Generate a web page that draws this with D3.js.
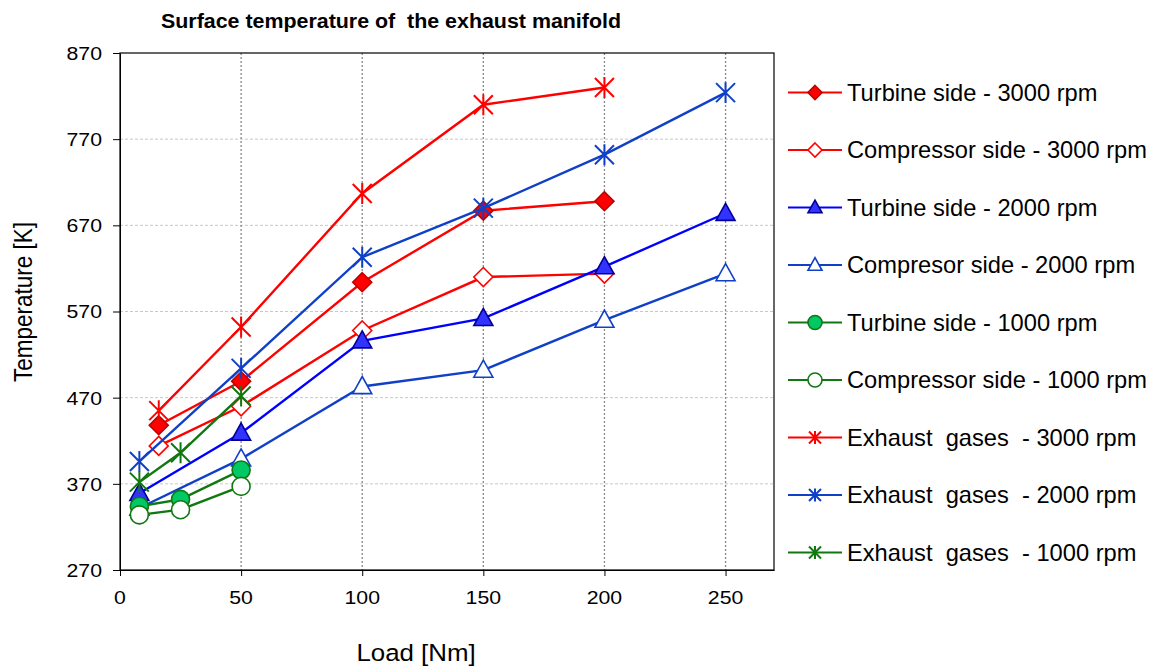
<!DOCTYPE html>
<html>
<head>
<meta charset="utf-8">
<script src="https://cdn.jsdelivr.net/npm/d3@7"></script>
<style>
  body { margin: 0; background: #fff; }
  svg { display: block; font-family: "Liberation Sans", Arial, sans-serif; }
  text { white-space: pre; }
</style>
</head>
<body>
<svg id="chart" width="1160" height="670"></svg>
<script>
// Load points [Nm] for each engine speed
const loads3000 = [16, 50, 100, 150, 200];
const loads2000 = [8, 50, 100, 150, 200, 250];
const loads1000 = [8, 25, 50];

// Temperatures [K]
const turbine3000    = [438, 489, 604, 687, 698];
const compressor3000 = [414, 460, 548, 610, 614];
const turbine2000    = [359, 429, 536, 562, 622, 684];
const compressor2000 = [342, 399, 483, 502, 560, 614];
const turbine1000    = [344, 352, 386];
const compressor1000 = [334, 340, 367];
const exhaust3000    = [455, 552, 707, 810, 830];
const exhaust2000    = [396, 504, 633, 690, 752, 824];
const exhaust1000    = [372, 406, 472];

const seriesNames = [
  "Turbine side - 3000 rpm",
  "Compressor side - 3000 rpm",
  "Turbine side - 2000 rpm",
  "Compresor side - 2000 rpm",
  "Turbine side - 1000 rpm",
  "Compressor side - 1000 rpm",
  "Exhaust  gases  - 3000 rpm",
  "Exhaust  gases  - 2000 rpm",
  "Exhaust  gases  - 1000 rpm"
];

const xTicks = [0, 50, 100, 150, 200, 250];
const yTicks = [270, 370, 470, 570, 670, 770, 870];

// Styling per series: line colour, marker kind, marker fill / stroke
const styles = [
  { color: "#ff0000", marker: "diamond",  fill: "#ff0000", stroke: "#c00000" },
  { color: "#ff0000", marker: "diamond",  fill: "#ffffff", stroke: "#ff0000" },
  { color: "#0000ff", marker: "triangle", fill: "#3333ff", stroke: "#000099" },
  { color: "#1040c8", marker: "triangle", fill: "#ffffff", stroke: "#1040c8" },
  { color: "#117711", marker: "circle",   fill: "#00c864", stroke: "#117711" },
  { color: "#117711", marker: "circle",   fill: "#ffffff", stroke: "#117711" },
  { color: "#ff0000", marker: "star",     fill: "none",    stroke: "#ff0000" },
  { color: "#1040c8", marker: "star",     fill: "none",    stroke: "#1040c8" },
  { color: "#117711", marker: "star",     fill: "none",    stroke: "#117711" }
];

const seriesData = [
  [loads3000, turbine3000],
  [loads3000, compressor3000],
  [loads2000, turbine2000],
  [loads2000, compressor2000],
  [loads1000, turbine1000],
  [loads1000, compressor1000],
  [loads3000, exhaust3000],
  [loads2000, exhaust2000],
  [loads1000, exhaust1000]
];

const svg = d3.select("#chart");
const margin = { left: 120, top: 53, right: 774, bottom: 570 };

const x = d3.scaleLinear().domain([0, 270]).range([margin.left, margin.right]);
const y = d3.scaleLinear().domain([270, 870]).range([margin.bottom, margin.top]);

// Text with a slightly widened glyph shape
function wideText(parent, tx, ty, sx, str, size, opts = {}) {
  const t = parent.append("text")
    .attr("transform", `translate(${tx},${ty}) scale(${sx},1)` + (opts.rotate ? ` rotate(${opts.rotate})` : ""))
    .attr("font-size", size).attr("fill", "#000")
    .attr("text-anchor", opts.anchor || "start")
    .text(str);
  if (opts.bold) t.attr("font-weight", "bold");
  if (opts.dy) t.attr("dy", opts.dy);
  return t;
}

// Grid lines
svg.append("g").selectAll("line")
  .data(yTicks.filter(t => t > 270 && t < 870))
  .join("line")
  .attr("x1", margin.left).attr("x2", margin.right)
  .attr("y1", d => y(d)).attr("y2", d => y(d))
  .attr("stroke", "#c8c8c8").attr("stroke-width", 1)
  .attr("stroke-dasharray", "3,2");

svg.append("g").selectAll("line")
  .data(xTicks.filter(t => t > 0))
  .join("line")
  .attr("x1", d => x(d)).attr("x2", d => x(d))
  .attr("y1", margin.top).attr("y2", margin.bottom)
  .attr("stroke", "#888").attr("stroke-width", 1.3)
  .attr("stroke-dasharray", "2,2");

// Axes (tick marks from d3, labels drawn widened)
const xAxis = d3.axisBottom(x).tickValues(xTicks).tickSizeInner(6).tickSizeOuter(0).tickFormat("");
const yAxis = d3.axisLeft(y).tickValues(yTicks).tickSizeInner(7).tickSizeOuter(0).tickFormat("");

const gx = svg.append("g").attr("transform", `translate(0,${margin.bottom})`).call(xAxis);
const gy = svg.append("g").attr("transform", `translate(${margin.left},0)`).call(yAxis);
[gx, gy].forEach(g => {
  g.select(".domain").attr("stroke", "#000");
  g.selectAll(".tick line").attr("stroke", "#000");
});

const xLabels = svg.append("g");
xTicks.forEach(t => wideText(xLabels, x(t), 604, 1.12, String(t), 19, { anchor: "middle" }));
const yLabels = svg.append("g");
yTicks.forEach(t => wideText(yLabels, 102, y(t), 1.12, String(t), 19, { anchor: "end", dy: "0.36em" }));

// Plot frame
svg.append("rect")
  .attr("x", margin.left).attr("y", margin.top)
  .attr("width", margin.right - margin.left).attr("height", margin.bottom - margin.top)
  .attr("fill", "none").attr("stroke", "#000").attr("stroke-width", 1.2);

// Marker drawing
function drawMarker(g, kind, size, st) {
  if (kind === "diamond") {
    const s = size;
    g.append("path").attr("d", `M0,${-s}L${s},0L0,${s}L${-s},0Z`)
      .attr("fill", st.fill).attr("stroke", st.stroke).attr("stroke-width", 1.6);
  } else if (kind === "triangle") {
    const s = size;
    g.append("path").attr("d", `M0,${-s * 1.05}L${s},${s * 0.75}L${-s},${s * 0.75}Z`)
      .attr("fill", st.fill).attr("stroke", st.stroke).attr("stroke-width", 1.6);
  } else if (kind === "circle") {
    g.append("circle").attr("r", size)
      .attr("fill", st.fill).attr("stroke", st.stroke).attr("stroke-width", 1.6);
  } else {
    const s = size;
    g.append("path")
      .attr("d", `M${-s},${-s}L${s},${s}M${-s},${s}L${s},${-s}M0,${-s * 1.1}L0,${s * 1.1}`)
      .attr("fill", "none").attr("stroke", st.stroke).attr("stroke-width", 2);
  }
}

const line = d3.line().x(d => x(d[0])).y(d => y(d[1]));
const plot = svg.append("g");
seriesData.forEach(([xs, ys], i) => {
  const st = styles[i];
  const pts = xs.map((v, j) => [v, ys[j]]);
  const g = plot.append("g");
  g.append("path").datum(pts).attr("d", line)
    .attr("fill", "none").attr("stroke", st.color).attr("stroke-width", 2.4);
  const size = st.marker === "star" ? 9.5 : st.marker === "circle" ? 9 : 9.5;
  pts.forEach(p => {
    const m = g.append("g").attr("transform", `translate(${x(p[0])},${y(p[1])})`);
    drawMarker(m, st.marker, size, st);
  });
});

// Legend
const legend = svg.append("g");
seriesNames.forEach((name, i) => {
  const st = styles[i];
  const cy = 92.5 + i * 57.5;
  const g = legend.append("g").attr("transform", `translate(0,${cy})`);
  g.append("line").attr("x1", 788).attr("x2", 842).attr("y1", 0).attr("y2", 0)
    .attr("stroke", st.color).attr("stroke-width", 2.2);
  const m = g.append("g").attr("transform", "translate(815,0)");
  drawMarker(m, st.marker, st.marker === "star" ? 6 : 7, st);
  wideText(g, 847, 0, 1.03, name, 23, { dy: "0.36em" });
});

// Titles
wideText(svg, 391, 28, 1.07, "Surface temperature of  the exhaust manifold", 20, { anchor: "middle", bold: true });
wideText(svg, 416, 661, 1.1, "Load [Nm]", 23.5, { anchor: "middle" });
wideText(svg, 32, 302, 1.12, "Temperature [K]", 22.5, { anchor: "middle", rotate: -90 });
</script>
</body>
</html>
